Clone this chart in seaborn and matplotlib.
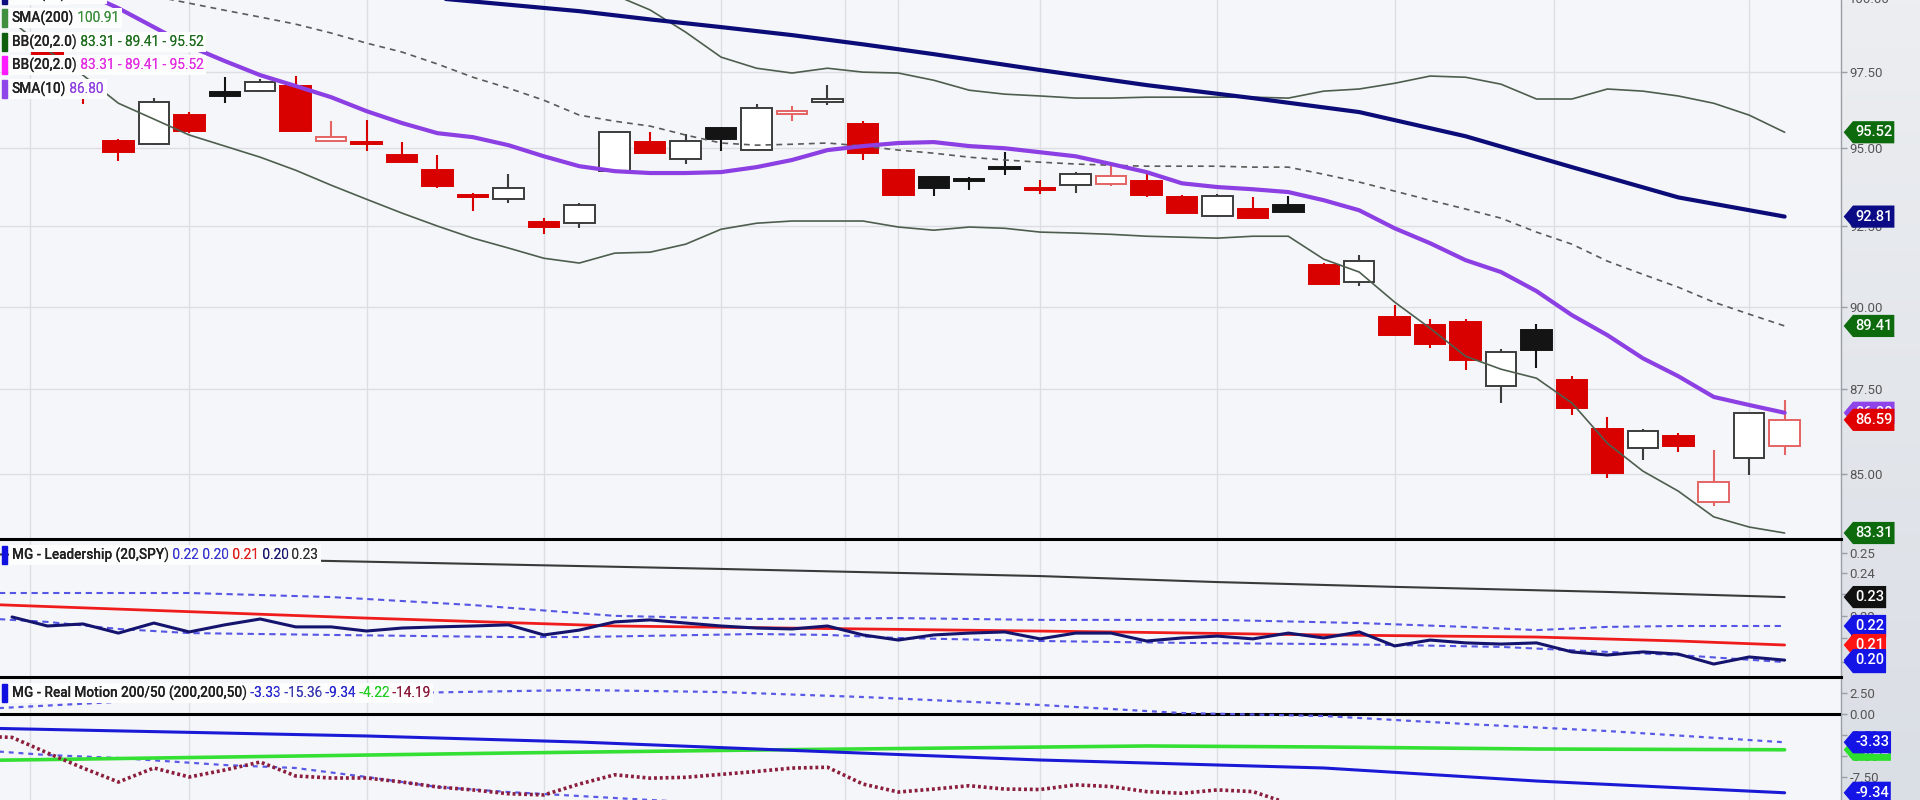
import numpy as np
import matplotlib
matplotlib.use("Agg")
import matplotlib.pyplot as plt
import seaborn as sns
from matplotlib.path import Path
from matplotlib.patches import Rectangle
from matplotlib.colors import LinearSegmentedColormap
from matplotlib.ticker import FixedLocator, FuncFormatter, NullLocator

# ---------------- daily candles (bar index 0..49) ----------------
opens = [98.25, 97.00, 95.24, 95.13, 96.08, 96.84, 96.86, 97.05, 95.25, 95.20,
         94.79, 94.29, 93.49, 93.36, 92.65, 92.61, 94.26, 95.19, 94.64, 95.66,
         94.94, 96.11, 96.50, 95.80, 94.29, 94.08, 94.00, 94.38, 93.71, 93.82,
         93.86, 93.95, 93.44, 92.84, 93.06, 93.19, 91.28, 90.75, 89.67, 89.44,
         89.52, 87.59, 89.28, 87.78, 86.31, 85.76, 86.12, 84.19, 85.48, 85.82]
highs = [98.32, 97.10, 95.30, 96.63, 96.17, 97.35, 97.28, 97.37, 95.90, 95.92,
         95.20, 94.79, 93.55, 94.18, 92.77, 93.23, 95.55, 95.52, 95.47, 95.68,
         96.46, 96.38, 97.07, 95.88, 94.31, 94.10, 94.08, 94.87, 93.99, 94.24,
         94.45, 94.17, 93.49, 93.52, 93.44, 93.46, 91.36, 91.60, 90.05, 89.63,
         89.62, 88.72, 89.48, 87.90, 86.66, 86.31, 86.20, 85.71, 86.80, 87.18]
lows = [98.02, 96.43, 94.58, 95.10, 95.49, 96.48, 96.85, 95.52, 95.19, 94.92,
        94.53, 93.72, 93.00, 93.23, 92.27, 92.44, 94.24, 94.84, 94.49, 94.90,
        94.92, 95.90, 96.40, 94.62, 93.47, 93.45, 93.66, 94.15, 93.54, 93.55,
        93.78, 93.42, 92.90, 92.82, 92.76, 92.95, 90.67, 90.65, 89.11, 88.73,
        88.09, 87.10, 88.14, 86.72, 84.90, 85.42, 85.64, 84.07, 84.99, 85.57]
closes = [98.12, 96.80, 94.88, 96.51, 95.55, 96.70, 97.16, 95.55, 95.36, 95.14,
          94.55, 93.78, 93.43, 93.72, 92.49, 93.17, 95.53, 94.86, 95.25, 95.29,
          96.30, 96.22, 96.62, 94.83, 93.49, 93.71, 93.95, 94.34, 93.67, 94.17,
          94.12, 93.49, 92.92, 93.47, 92.78, 92.97, 90.69, 91.41, 89.13, 88.86,
          88.37, 88.62, 88.68, 86.93, 85.04, 86.27, 85.81, 84.77, 86.78, 86.59]

# ---------------- price overlays ----------------
sma10_idx = list(range(-1, 50))
sma10 = [101.20, 100.78, 100.20, 99.65, 99.01, 98.37, 97.87, 97.40, 97.04, 96.67,
         96.21, 95.82, 95.49, 95.36, 95.10, 94.74, 94.42, 94.26, 94.20, 94.20,
         94.23, 94.39, 94.62, 94.94, 95.07, 95.17, 95.20, 95.07, 95.00, 94.87,
         94.74, 94.49, 94.23, 93.87, 93.75, 93.68, 93.59, 93.33, 93.01, 92.44,
         91.97, 91.44, 91.07, 90.48, 89.74, 89.13, 88.43, 87.89, 87.27, 87.03, 86.80]

bb_mid_idx = list(range(2, 50))
bb_mid = [100.30, 100.06, 99.82, 99.58, 99.35, 99.11, 98.81, 98.47,
          98.17, 97.77, 97.33, 96.97, 96.57, 96.08, 95.88, 95.72, 95.43, 95.17,
          95.10, 95.13, 95.17, 95.07, 94.94, 94.84, 94.71, 94.62, 94.55, 94.49,
          94.45, 94.42, 94.42, 94.42, 94.39, 94.39, 94.16, 93.91, 93.62, 93.33,
          93.05, 92.76, 92.32, 91.94, 91.41, 91.00, 90.60, 90.14, 89.77, 89.41]

bb_low_idx = list(range(-1, 50))
bb_low = [99.20, 98.23, 97.40, 96.47, 95.95, 95.43, 95.07, 94.71, 94.29, 93.81,
          93.36, 92.92, 92.51, 92.13, 91.82, 91.50, 91.35, 91.66, 91.69, 91.94,
          92.41, 92.60, 92.67, 92.67, 92.67, 92.48, 92.38, 92.48, 92.44, 92.32,
          92.29, 92.25, 92.19, 92.16, 92.13, 92.19, 92.19, 91.47, 91.07, 90.14,
          89.34, 88.49, 88.10, 87.83, 87.09, 85.90, 85.09, 84.51, 83.77, 83.48, 83.31]

bb_up_idx = list(range(15, 50))
bb_up = [100.80, 100.10, 99.59, 98.84, 98.00,
         97.63, 97.47, 97.63, 97.50, 97.47, 97.23, 96.90, 96.77, 96.71, 96.64,
         96.64, 96.67, 96.67, 96.67, 96.67, 96.64, 96.87, 96.94, 97.13, 97.37,
         97.33, 97.10, 96.61, 96.61, 96.94, 96.87, 96.71, 96.47, 96.08, 95.52]

sma50_idx = [10, 11, 13, 15, 17, 19, 21, 23, 25, 28, 31, 34, 37, 40, 43, 46, 49]
sma50 = [100.12, 99.99, 99.77, 99.55, 99.27, 99.01, 98.74, 98.43, 98.10, 97.57,
         97.07, 96.64, 96.18, 95.39, 94.39, 93.42, 92.81]
sma200_last = 100.91

# ---------------- MG Leadership (20, SPY) ----------------
lead_main_idx = list(range(-1, 50))
lead_main = [0.2194, 0.2154, 0.2163, 0.2123, 0.2167, 0.2128, 0.2159, 0.2185, 0.2150, 0.2150,
             0.2132, 0.2145, 0.2150, 0.2154, 0.2159, 0.2115, 0.2136, 0.2172, 0.2181, 0.2167,
             0.2154, 0.2145, 0.2141, 0.2154, 0.2115, 0.2093, 0.2115, 0.2123, 0.2128, 0.2098,
             0.2123, 0.2123, 0.2089, 0.2102, 0.2110, 0.2098, 0.2123, 0.2102, 0.2128, 0.2068,
             0.2093, 0.2081, 0.2076, 0.2081, 0.2043, 0.2030, 0.2043, 0.2034, 0.1993, 0.2022, 0.2009]
lead_red_idx = [-2, 9, 16, 23, 30, 36, 42, 46, 49]
lead_red = [0.2253, 0.2189, 0.2154, 0.2141, 0.2128, 0.2115, 0.2106, 0.2089, 0.2072]
lead_up_idx = [-2, 4, 8, 9, 12, 16, 20, 24, 28, 33, 37, 40, 42, 44, 46, 49]
lead_up = [0.2304, 0.2304, 0.2285, 0.2276, 0.2248, 0.2199, 0.2185, 0.2189, 0.2181, 0.2181,
           0.2167, 0.2150, 0.2136, 0.2150, 0.2154, 0.2154]
lead_low_idx = [-2, 0, 2, 4, 8, 13, 15, 20, 22, 24, 28, 32, 36, 38, 41, 44, 46, 49]
lead_low = [0.2190, 0.2172, 0.2141, 0.2123, 0.2115, 0.2106, 0.2106, 0.2119, 0.2115, 0.2102,
            0.2089, 0.2081, 0.2076, 0.2072, 0.2064, 0.2043, 0.2030, 0.2001]
lead_black_idx = [-2, 9, 19, 28, 33, 38, 44, 49]
lead_black = [0.2495, 0.2456, 0.2420, 0.2385, 0.2356, 0.2333, 0.2309, 0.2285]

# ---------------- MG Real Motion 200/50 ----------------
rm_up_idx = [-2, 3, 10, 15, 19, 23, 28, 32, 36, 40, 44, 49]
rm_up = [0.60, 1.70, 2.54, 2.89, 2.65, 2.06, 1.11, 0.15, -0.20, -1.15, -1.99, -3.33]
rm_low_idx = [-2, 0, 2, 5, 7, 9, 11, 13, 17, 25, 35, 49]
rm_low = [-4.25, -4.85, -5.20, -6.04, -6.39, -7.46, -8.65, -9.25, -10.20, -12.00, -13.80, -15.36]
rm_mid_idx = [-2, 9, 13, 15, 20, 28, 36, 42, 49]
rm_mid = [-1.63, -2.58, -3.06, -3.30, -4.13, -5.44, -6.39, -7.94, -9.34]
rm_green_idx = [-2, 9, 13, 20, 31, 36, 42, 49]
rm_green = [-5.50, -4.85, -4.61, -4.25, -3.77, -3.89, -4.13, -4.22]
rm_dot_idx = list(range(-2, 36)) + [40, 45, 49]
rm_dot = [-2.60, -2.75, -4.60, -6.39, -8.06, -6.39, -7.46, -6.63, -5.68, -7.34,
          -7.58, -7.58, -8.06, -8.65, -9.00, -9.45, -9.60, -8.30, -7.20, -7.60,
          -7.50, -7.15, -6.80, -6.40, -6.30, -8.30, -9.25, -8.90, -8.50, -8.90,
          -8.95, -8.40, -8.60, -9.20, -9.40, -9.00, -9.20, -10.60, -12.50, -13.50, -14.19]

grid_x = [-0.5, 4, 9, 14, 19, 22.5, 24, 28, 33, 38, 42.5, 48]

# ---------------- figure ----------------
sns.set_theme(style="white")
plt.rcParams['font.family'] = ['Roboto', 'DejaVu Sans']

W, H = 1920, 800
X_RIGHT = 1841
fig = plt.figure(figsize=(W / 100, H / 100), dpi=100)
fig.patch.set_facecolor('#e6e8ec')

strip = fig.add_axes([X_RIGHT / W, 0, 1 - X_RIGHT / W, 1], zorder=-5)
strip.imshow(np.linspace(0, 1, 256)[:, None], aspect='auto', extent=(0, 1, 0, 1),
             cmap=LinearSegmentedColormap.from_list('strip', ['#dadee5', '#eceef1']), origin='lower')
strip.axis('off')


def rect(top, bottom):
    return [0, 1 - bottom / H, X_RIGHT / W, (bottom - top) / H]


ax_top = fig.add_axes(rect(0, 539))
ax_mid = fig.add_axes(rect(539, 677), sharex=ax_top)
ax_bot = fig.add_axes(rect(677, 800), sharex=ax_top)
ax_top.set_yscale('log')
ax_mid.set_yscale('log')


def draw(ax, idx, vals, color, lw, dashes=None, z=5):
    sns.lineplot(x=idx, y=vals, ax=ax, color=color, linewidth=lw,
                 estimator=None, sort=False, zorder=z)
    if dashes:
        ax.lines[-1].set_dashes(dashes)


# candles
o, h, l, c = map(np.array, (opens, highs, lows, closes))
pos = np.arange(len(c))
prev = np.r_[o[0], c[:-1]]
down = c < prev
hollow = c > o
face = np.where(hollow, '#ffffff', np.where(down, '#d90000', '#141414'))
edge = np.where(down, np.where(hollow, '#e46464', '#d90000'),
                np.where(hollow, '#3c3c3c', '#141414'))
ax_top.vlines(pos, l, h, colors=edge, linewidth=1.5, zorder=3)
ax_top.bar(pos, np.maximum(np.abs(c - o), 0.02), bottom=np.minimum(o, c), width=0.86,
           color=face, edgecolor=edge, linewidth=1.4, zorder=4)

draw(ax_top, bb_low_idx, bb_low, '#4e5e4e', 1.2)
draw(ax_top, bb_up_idx, bb_up, '#4e5e4e', 1.2)
draw(ax_top, bb_mid_idx, bb_mid, '#5a5a5a', 1.2, dashes=(3.5, 3))
draw(ax_top, sma50_idx, sma50, '#0c0c78', 3.0)
draw(ax_top, sma10_idx, sma10, '#8c3fe3', 3.0)

draw(ax_mid, lead_black_idx, lead_black, '#3a3a3a', 1.5)
draw(ax_mid, lead_up_idx, lead_up, '#5656e6', 1.5, dashes=(3, 2.2))
draw(ax_mid, lead_low_idx, lead_low, '#5656e6', 1.5, dashes=(3, 2.2))
draw(ax_mid, lead_red_idx, lead_red, '#f01c1c', 2.0)
draw(ax_mid, lead_main_idx, lead_main, '#14146e', 2.2)

ax_bot.axhline(0, color='black', linewidth=2.2, zorder=4)
draw(ax_bot, rm_up_idx, rm_up, '#5a5ae8', 1.6, dashes=(2.2, 2.2))
draw(ax_bot, rm_low_idx, rm_low, '#5a5ae8', 1.6, dashes=(2.2, 2.2))
draw(ax_bot, rm_green_idx, rm_green, '#33e033', 2.6)
draw(ax_bot, rm_mid_idx, rm_mid, '#1a1ad6', 2.2)
draw(ax_bot, rm_dot_idx, rm_dot, '#8a1e3c', 2.6, dashes=(0.8, 0.8))

# axes cosmetics
limits = {ax_top: (83.14, 99.93), ax_mid: (0.1941, 0.25725), ax_bot: (-10.20, 4.44)}
ticks = {ax_top: [85, 87.5, 90, 92.5, 95, 97.5],
         ax_mid: [0.20, 0.21, 0.22, 0.23, 0.24, 0.25],
         ax_bot: [-7.5, -5, -2.5, 0, 2.5]}
for ax in (ax_top, ax_mid, ax_bot):
    ax.set_facecolor('#f5f6f9')
    ax.set_xlim(-1.34, 50.59)
    ax.set_ylim(*limits[ax])
    ax.set_xlabel('')
    ax.set_ylabel('')
    ax.yaxis.set_major_locator(FixedLocator(ticks[ax]))
    ax.yaxis.set_minor_locator(NullLocator())
    ax.yaxis.set_major_formatter(FuncFormatter(lambda v, p: f'{v:.2f}'))
    ax.yaxis.tick_right()
    ax.tick_params(axis='y', which='both', right=True, left=False, labelright=True,
                   labelleft=False, length=4, width=1, color='#9a9ea6',
                   labelcolor='#555555', labelsize=9.5, pad=2)
    ax.tick_params(axis='x', length=0, labelbottom=False)
    for s in ('left', 'bottom', 'top'):
        ax.spines[s].set_visible(False)
    ax.spines['right'].set_color('#9a9ea6')
    ax.spines['right'].set_linewidth(1)
    ax.set_axisbelow(True)
    ax.grid(axis='x', color='#dcdee3', linewidth=1)
ax_top.set_xticks(grid_x)
ax_top.grid(axis='y', color='#dcdee3', linewidth=1)
for ax in (ax_mid, ax_bot):
    ax.spines['top'].set_visible(True)
    ax.spines['top'].set_color('black')
    ax.spines['top'].set_linewidth(2.2)

ax_top.annotate('100.00', xy=(1, 100.0), xycoords=('axes fraction', 'data'), xytext=(6, 0),
                textcoords='offset points', va='center_baseline', ha='left', fontsize=9.5,
                color='#555555', annotation_clip=False)


# value tags on the right axis
def tag_shape(x0, y0, width, height, mutation_size):
    pad = 0.28 * mutation_size
    x0, y0 = x0 - 0.5 * pad, y0 - pad
    width, height = width + pad, height + 2 * pad
    tip = 0.42 * height
    verts = [(x0 - tip, y0 + height / 2), (x0, y0 + height), (x0 + width, y0 + height),
             (x0 + width, y0), (x0, y0), (x0 - tip, y0 + height / 2)]
    codes = [Path.MOVETO] + [Path.LINETO] * 4 + [Path.CLOSEPOLY]
    return Path(verts, codes)


def add_tag(ax, value, color):
    ax.annotate(f'{value:.2f}', xy=(1, value), xycoords=('axes fraction', 'data'),
                xytext=(14, 0), textcoords='offset pixels', ha='left', va='center',
                fontsize=10.5, color='white', fontweight='medium',
                bbox=dict(boxstyle=tag_shape, fc=color, ec='none'),
                annotation_clip=False, zorder=20)


add_tag(ax_top, bb_up[-1], '#0d6b0d')
add_tag(ax_top, sma50[-1], '#0b0b86')
add_tag(ax_top, bb_mid[-1], '#0d6b0d')
add_tag(ax_top, sma10[-1], '#8e44e8')
add_tag(ax_top, closes[-1], '#e00000')
add_tag(ax_top, bb_low[-1], '#0d6b0d')

add_tag(ax_mid, lead_black[-1], '#111111')
add_tag(ax_mid, lead_up[-1], '#1414e6')
add_tag(ax_mid, lead_red[-1], '#ff1414')
add_tag(ax_mid, lead_low[-1], '#1414e6')
add_tag(ax_mid, lead_main[-1], '#1414e6')

add_tag(ax_bot, rm_green[-1], '#2ee02e')
add_tag(ax_bot, rm_up[-1], '#1414e6')
add_tag(ax_bot, rm_mid[-1], '#1414e6')


# legend rows in the upper left corner of each panel
def legend_row(ax, y_px, label, parts, bar_color):
    fig.add_artist(Rectangle((2 / W, 1 - (y_px + 9) / H), 5 / W, 18 / H,
                             transform=fig.transFigure, color=bar_color, zorder=30))
    # first pass draws the white background boxes, second pass the text on top
    for z, box in ((24, dict(boxstyle='square,pad=0.2', fc='#fdfdfd', ec='none')), (26, None)):
        t = ax.annotate(label, xy=(12, H - y_px), xycoords='figure pixels', va='center',
                        ha='left', fontsize=9.8, fontweight='medium', color='#222222',
                        bbox=box, zorder=z)
        for s, col in parts:
            t = ax.annotate(s, xy=(1, 0.5), xycoords=t, va='center', ha='left',
                            fontsize=9.8, color=col, bbox=box, zorder=z)


bb_txt = f' {bb_low[-1]:.2f} - {bb_mid[-1]:.2f} - {bb_up[-1]:.2f}'
legend_row(ax_top, -5.5, 'SMA(50)', [(f' {sma50[-1]:.2f}', '#1a1a8a')], '#0d0d80')
legend_row(ax_top, 18, 'SMA(200)', [(f' {sma200_last:.2f}', '#3f8f3f')], '#3f8f3f')
legend_row(ax_top, 42, 'BB(20,2.0)', [(bb_txt, '#1f6e1f')], '#0e5e0e')
legend_row(ax_top, 65, 'BB(20,2.0)', [(bb_txt, '#e22ee2')], '#ff19ff')
legend_row(ax_top, 89, 'SMA(10)', [(f' {sma10[-1]:.2f}', '#8e44e0')], '#8e44e8')

legend_row(ax_mid, 555, 'MG - Leadership (20,SPY)',
           [(f' {lead_up[-1]:.2f}', '#3a3ad0'), (f' {lead_low[-1]:.2f}', '#3a3ad0'),
            (f' {lead_red[-1]:.2f}', '#e02020'), (f' {lead_main[-1]:.2f}', '#1a1a70'),
            (f' {lead_black[-1]:.2f}', '#333333')], '#1010e0')
legend_row(ax_bot, 693, 'MG - Real Motion 200/50 (200,200,50)',
           [(f' {rm_up[-1]:.2f}', '#2a2ad0'), (f' {rm_low[-1]:.2f}', '#3a3ab0'),
            (f' {rm_mid[-1]:.2f}', '#2a2ad0'), (f' {rm_green[-1]:.2f}', '#22cc22'),
            (f' {rm_dot[-1]:.2f}', '#8b1a3a')], '#1010e0')

fig.savefig('out.png', dpi=100, facecolor=fig.get_facecolor())
